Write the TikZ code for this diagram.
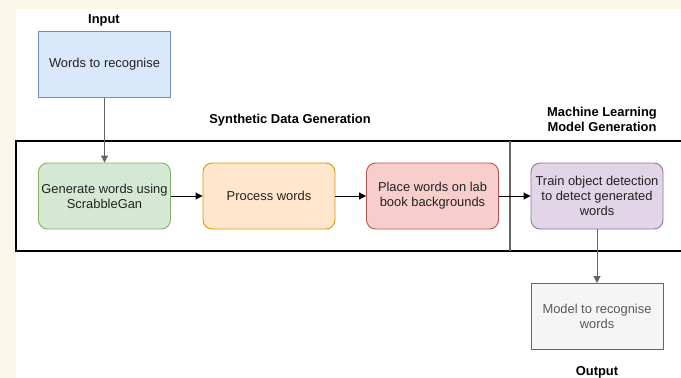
\documentclass[tikz,border=0pt]{standalone}
\usepackage{fontspec}
\setmainfont{Liberation Sans}
\usetikzlibrary{arrows.meta}
\definecolor{cream}{HTML}{F8F7E8}
\definecolor{bluefill}{HTML}{DAE8FC}\definecolor{bluedraw}{HTML}{6C8EBF}
\definecolor{greenfill}{HTML}{D5E8D4}\definecolor{greendraw}{HTML}{82B366}
\definecolor{orangefill}{HTML}{FFE6CC}\definecolor{orangedraw}{HTML}{D79B00}
\definecolor{redfill}{HTML}{F8CECC}\definecolor{reddraw}{HTML}{B85450}
\definecolor{purplefill}{HTML}{E1D5E7}\definecolor{purpledraw}{HTML}{9673A6}
\definecolor{greyfill}{HTML}{F5F5F5}\definecolor{greydraw}{HTML}{666666}
\definecolor{txt}{HTML}{222222}
\begin{document}
\begin{tikzpicture}[x=1pt,y=-1pt,
  every node/.style={font=\fontsize{12.9}{15}\selectfont, text=txt, align=center},
  box/.style={draw, line width=0.9pt, minimum width=132pt, minimum height=66pt, inner sep=1pt},
  rbox/.style={box, rounded corners=9pt},
  title/.style={font=\bfseries\fontsize{12.9}{15}\selectfont, text=black},
  conn/.style={line width=1pt, -{Triangle[length=7pt,width=7pt]}},
  vconn/.style={conn, draw=black!60}]
\fill[cream] (0,0) rectangle (681,378);
\fill[white] (16,9) rectangle (681,378);
\useasboundingbox (0,0) rectangle (681,378);
% frame
\draw[line width=1.1pt] (681,141) -- (16,141) -- (16,251) -- (681,251);
\draw[line width=1.1pt, black!60] (510,141) -- (510,251);
% labels
\node[title] (lin) at (104,20) {Input};
\node[title] (lsyn) at (290,120) {Synthetic Data Generation};
\node[title] (lml) at (602,119.5) {Machine Learning\\Model Generation};
\node[title] (lout) at (597,372) {Output};
% boxes
\node[box, fill=bluefill, draw=bluedraw] (in) at (104.5,64.5) {Words to recognise};
\node[rbox, fill=greenfill, draw=greendraw] (gen) at (104.5,196) {Generate words using\\ScrabbleGan};
\node[rbox, fill=orangefill, draw=orangedraw] (proc) at (269,196) {Process words};
\node[rbox, fill=redfill, draw=reddraw] (place) at (432.5,196) {Place words on lab\\book backgrounds};
\node[rbox, fill=purplefill, draw=purpledraw] (train) at (597,196) {Train object detection\\to detect generated\\words};
\node[box, fill=greyfill, draw=greydraw, text=black!65] (model) at (597,316.5) {Model to recognise\\words};
% connectors
\draw[vconn] (in) -- (gen);
\draw[conn] (gen) -- (proc);
\draw[conn] (proc) -- (place);
\draw[conn] (place) -- (train);
\draw[vconn] (train) -- (model);
\end{tikzpicture}
\end{document}
